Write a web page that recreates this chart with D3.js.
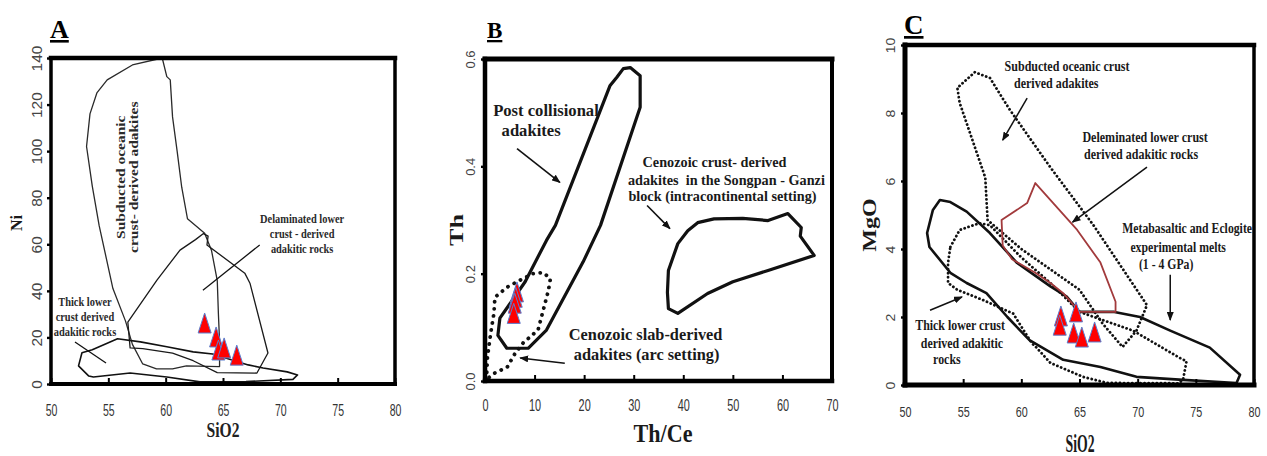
<!DOCTYPE html>
<html>
<head>
<meta charset="utf-8">
<script src="https://cdn.jsdelivr.net/npm/d3@7"></script>
<style>
  body { margin: 0; background: #fff; }
</style>
</head>
<body>
<script>
// ---- data ----

// A: SiO2 vs Ni
const aXTicks = [50, 55, 60, 65, 70, 75, 80];
const aYTicks = [0, 20, 40, 60, 80, 100, 120, 140];
const aSubducted = [[59.7,140],[57.1,137],[54.9,130.6],[54.0,125],[53.4,116],[53.1,102],[53.6,85],[54.2,68],[55.4,41],[56.5,27],[57.1,17],[58.0,8.6],[59.2,6.5],[60.6,6.5],[61.8,7.8],[64.7,7.5],[64.7,12],[64.7,18.5],[64.6,30],[64.5,44.4],[64.0,57.3],[63.4,64.7],[61.9,71],[61.4,84.5],[61.0,100],[60.6,114.7],[60.4,130.6],[60.1,132]];
const aDelaminated = [[63.3,64.6],[62.6,62],[61.25,57.5],[59.24,44.6],[56.7,26.6],[56.9,15.5],[58.0,15.2],[60.6,13.3],[62.4,10.0],[64.5,4.9],[67.96,4.7],[68.92,13.3],[67.35,43.3],[66.9,47.6],[63.6,59.7],[63.7,63.5]];
const aThickLower = [[52.4,7.8],[52.7,13.4],[53.6,14.7],[55.8,19.4],[57.8,18.1],[60.1,16],[62.4,13.8],[64.1,12.9],[67.2,8.2],[68.5,6.9],[70.6,5.2],[71.5,3.9],[71.1,2.0],[67,1.0],[63,0.9],[60.1,3.0],[56.9,4.7],[53.7,3.0],[53.3,3.4]];
const aSampleSiO2 = [63.4, 64.4, 64.6, 65.1, 66.2];
const aSampleNi = [26.2, 20.2, 14.6, 15.5, 12.4];

// B: Th/Ce vs Th
const bXTicks = [0, 10, 20, 30, 40, 50, 60, 70];
const bYTicks = [0, 0.2, 0.4, 0.6];
const bPostCollisional = [[29.3,0.584],[31.3,0.569],[31.3,0.51],[23.3,0.29],[19.8,0.222],[12.4,0.095],[8.7,0.061],[4.4,0.061],[2.6,0.085],[3.0,0.117],[8.1,0.185],[12.4,0.262],[14.2,0.29],[25.2,0.55],[26.6,0.566],[27.9,0.582]];
const bSongpanGanzi = [[38.9,0.256],[40.9,0.28],[42.9,0.295],[46.2,0.302],[52.0,0.303],[57.1,0.299],[61.1,0.312],[63.8,0.286],[63.6,0.27],[66.4,0.234],[57.1,0.206],[50.0,0.185],[44.9,0.163],[38.9,0.126],[37.0,0.135],[36.8,0.165],[37.0,0.206]];
const bSlabDerived = [[0.3,0.003],[0.5,0.045],[1.15,0.089],[1.8,0.126],[2.0,0.156],[4.5,0.175],[7.1,0.188],[9.7,0.2],[11.7,0.202],[13.2,0.191],[12.8,0.169],[10.7,0.095],[7.7,0.071],[6.1,0.052],[4.5,0.026],[2.0,0.015]];
const bSampleThCe = [6.45, 6.2, 6.0, 5.8];
const bSampleTh = [0.166, 0.156, 0.145, 0.126];

// C: SiO2 vs MgO
const cXTicks = [50, 55, 60, 65, 70, 75, 80];
const cYTicks = [0, 2, 4, 6, 8, 10];
const cSubducted = [[56.0,9.2],[54.5,8.74],[54.7,8.3],[55.8,7.2],[56.9,6.1],[57.1,4.85],[60,4.0],[62.5,3.4],[65,2.8],[67,1.8],[68.7,1.12],[69.9,1.6],[70.8,2.35],[66.2,4.7],[62.5,6.4],[59.0,8.1],[57.3,9.03]];
const cDelaminated = [[58.3,4.85],[60.5,5.35],[61.2,5.94],[64.8,4.56],[66.8,3.6],[68.1,2.45],[68.1,2.15],[65,2.15],[63.6,2.7],[62.5,3.0],[61.2,3.3],[59.2,3.7],[58.4,4.1]];
const cMetabasalt = [[53.0,5.44],[53.9,5.38],[55.3,5.1],[57.3,4.47],[59.6,3.6],[62.5,2.9],[63.9,2.6],[65.0,2.15],[68,2.15],[70.2,2.0],[72.8,1.6],[76.2,1.1],[78.8,0.3],[78.5,0.06],[73.9,0.15],[69.9,0.24],[66.8,0.53],[63.6,0.74],[60.7,1.32],[58.8,2.0],[57.0,2.7],[55.3,3.0],[53.9,3.3],[52.1,4.06],[51.9,4.47],[52.4,5.15]];
const cThickLower = [[53.9,4.06],[54.7,4.56],[56.4,4.76],[57.3,4.7],[60,3.75],[62.5,3.0],[65,2.15],[67.5,1.85],[69.6,1.6],[73.6,0.8],[74.2,0.7],[73.9,0.15],[73.5,0.05],[67.4,0.06],[65.3,0.24],[62.5,0.65],[61.3,1.1],[60.9,1.23],[59.3,2.1],[56.7,2.5],[54.5,2.8],[53.7,3.0],[53.7,3.6]];
const cSampleSiO2 = [63.4, 63.3, 64.7, 64.5, 65.2, 66.3];
const cSampleMgO = [2.03, 1.76, 2.15, 1.53, 1.41, 1.56];

// ---- setup ----
const SERIF = "'Liberation Serif','Times New Roman',serif";
const SANS = "'Liberation Sans',Arial,sans-serif";

const svg = d3.select("body").append("svg")
  .attr("width", 1267).attr("height", 456);

svg.append("defs").append("marker")
  .attr("id", "head")
  .attr("markerUnits", "userSpaceOnUse")
  .attr("markerWidth", 9).attr("markerHeight", 7)
  .attr("refX", 8).attr("refY", 3.5)
  .attr("orient", "auto")
  .append("path").attr("d", "M0,0 L9,3.5 L0,7 Z").attr("fill", "#111");

function addText(g, x, y, lines, o) {
  const t = g.append("text")
    .attr("transform", `translate(${x},${y}) scale(${o.sx || 1},1)` + (o.rot ? ` rotate(${o.rot})` : ""))
    .attr("font-family", o.font || SERIF)
    .attr("font-size", o.size)
    .attr("font-weight", o.weight || "bold")
    .attr("text-anchor", o.anchor || "middle")
    .attr("fill", o.fill || "#1a1a1a")
    .style("white-space", "pre");
  [].concat(lines).forEach((s, i) => {
    t.append("tspan").attr("x", 0).attr("dy", i ? o.lh : 0).text(s);
  });
  return t;
}

function drawAxes(g, x, y, xt, yt, yFmt, st) {
  const [x0, x1] = x.range();
  const [y0, y1] = y.range();

  const ya = g.append("g").attr("transform", `translate(${x0},0)`)
    .call(d3.axisLeft(y).tickValues(yt).tickSize(4).tickFormat(yFmt));
  ya.select(".domain").remove();
  ya.selectAll("line").attr("stroke", "#000").attr("stroke-width", 2.4);
  ya.selectAll("text")
    .attr("x", 0).attr("y", 0).attr("dy", 0)
    .attr("transform", `translate(${-st.yLab},0) scale(${st.ySx},1) rotate(-90)`)
    .attr("text-anchor", "middle")
    .attr("font-family", SANS).attr("font-size", st.yFont).attr("fill", "#444");

  const xa = g.append("g").attr("transform", `translate(0,${y0})`)
    .call(d3.axisBottom(x).tickValues(xt).tickSize(-6).tickFormat(d3.format("d")));
  xa.select(".domain").remove();
  xa.selectAll("line").attr("stroke", "#000").attr("stroke-width", 2);
  xa.selectAll("text")
    .attr("x", 0).attr("y", 0).attr("dy", 0)
    .attr("transform", `translate(0,${st.xLab}) scale(${st.xSx},1)`)
    .attr("text-anchor", "middle")
    .attr("font-family", SANS).attr("font-size", st.xFont).attr("fill", "#333");

  // frame
  const fr = g.append("g").attr("stroke", "#000").attr("stroke-linecap", "square");
  fr.append("line").attr("x1", x0).attr("x2", x1).attr("y1", y1).attr("y2", y1).attr("stroke-width", st.fTop);
  fr.append("line").attr("x1", x0).attr("x2", x1).attr("y1", y0).attr("y2", y0).attr("stroke-width", st.fBottom);
  fr.append("line").attr("x1", x0).attr("x2", x0).attr("y1", y1).attr("y2", y0).attr("stroke-width", st.fLeft);
  fr.append("line").attr("x1", x1).attr("x2", x1).attr("y1", y1).attr("y2", y0).attr("stroke-width", st.fRight);
}

function field(g, x, y, pts, style) {
  const line = d3.line().x(d => x(d[0])).y(d => y(d[1])).curve(d3.curveLinearClosed);
  return g.append("path").attr("d", line(pts))
    .attr("fill", "none")
    .attr("stroke", style.stroke || "#111")
    .attr("stroke-width", style.width)
    .attr("stroke-linejoin", "round")
    .attr("stroke-linecap", style.dash ? "round" : "butt")
    .attr("stroke-dasharray", style.dash || null);
}

function arrow(g, x, y, from, to, w, head) {
  g.append("line")
    .attr("x1", x(from[0])).attr("y1", y(from[1]))
    .attr("x2", x(to[0])).attr("y2", y(to[1]))
    .attr("stroke", "#111").attr("stroke-width", w)
    .attr("marker-end", head ? "url(#head)" : null);
}

function samples(g, x, y, xs, ys) {
  const w = 13, h = 20;
  g.selectAll(null).data(xs.map((v, i) => [v, ys[i]])).enter()
    .append("path")
    .attr("transform", d => `translate(${x(d[0])},${y(d[1])})`)
    .attr("d", `M0,${-h / 2} L${w / 2},${h / 2} L${-w / 2},${h / 2} Z`)
    .attr("fill", "#ff0000")
    .attr("stroke", "#5a7fd0")
    .attr("stroke-width", 1);
}

function panelLetter(g, x, y, s, size) {
  addText(g, x, y, s, { size: size, anchor: "start", fill: "#000" })
    .style("text-decoration", "underline");
}

// ---- panel A ----
{
  const g = svg.append("g");
  const x = d3.scaleLinear().domain([50, 80]).range([51, 395]);
  const y = d3.scaleLinear().domain([0, 140]).range([384, 58]);

  field(g, x, y, aSubducted, { width: 1.3, stroke: "#2a2a2a" });
  field(g, x, y, aDelaminated, { width: 1.3, stroke: "#1a1a1a" });
  field(g, x, y, aThickLower, { width: 1.6, stroke: "#111" });
  arrow(g, x, y, [52.09, 18.0], [54.8, 9.0], 1.3, false);
  arrow(g, x, y, [68.2, 59.7], [63.25, 40.3], 1.3, false);
  samples(g, x, y, aSampleSiO2, aSampleNi);

  drawAxes(g, x, y, aXTicks, aYTicks, d3.format("d"), {
    yLab: 9, ySx: 1, yFont: 15.5, xLab: 32, xSx: 0.62, xFont: 17,
    fTop: 4.5, fBottom: 4, fLeft: 3.5, fRight: 3.5
  });

  addText(g, x(56.45), y(88.8), ["Subducted oceanic", "crust- derived adakites"],
    { size: 15.5, sx: 0.8, rot: -90, lh: 16, fill: "#2a2a2a" });
  addText(g, x(71.9), y(69.1), ["Delaminated lower", "crust - derived", "adakitic rocks"],
    { size: 13, sx: 0.8, lh: 15, fill: "#2a2a2a" });
  addText(g, x(52.96), y(33.5), ["Thick lower", "crust derived", "adakitic rocks"],
    { size: 13, sx: 0.8, lh: 15, fill: "#2a2a2a" });

  addText(g, 22, 223, "Ni", { size: 16, rot: -90 });
  addText(g, 223, 437, "SiO2", { size: 20, sx: 0.78, fill: "#222" });
  panelLetter(g, 50, 38, "A", 26);
}

// ---- panel B ----
{
  const g = svg.append("g");
  const x = d3.scaleLinear().domain([0, 70]).range([485, 832]);
  const y = d3.scaleLinear().domain([0, 0.6]).range([381, 59]);

  field(g, x, y, bPostCollisional, { width: 3.2 });
  field(g, x, y, bSongpanGanzi, { width: 3.2 });
  field(g, x, y, bSlabDerived, { width: 3.8, dash: "0.1,7" });
  arrow(g, x, y, [6.46, 0.433], [15.1, 0.37], 1.6, true);
  arrow(g, x, y, [32.7, 0.327], [37.3, 0.284], 1.6, true);
  arrow(g, x, y, [16.1, 0.033], [7.1, 0.043], 1.6, true);
  samples(g, x, y, bSampleThCe, bSampleTh);

  drawAxes(g, x, y, bXTicks, bYTicks, d3.format(".1f"), {
    yLab: 10, ySx: 0.95, yFont: 13, xLab: 30, xSx: 0.64, xFont: 17,
    fTop: 5, fBottom: 4.5, fLeft: 4.5, fRight: 4
  });

  addText(g, x(12.3), y(0.494), "Post collisional", { size: 17.5, sx: 0.95 });
  addText(g, x(9.3), y(0.457), "adakites", { size: 17.5, sx: 0.95 });
  addText(g, x(46.3), y(0.3996), "Cenozoic crust- derived", { size: 15, sx: 0.95 });
  addText(g, x(48.7), y(0.366), "adakites  in the Songpan - Ganzi", { size: 15, sx: 0.95 });
  addText(g, x(47.9), y(0.335), "block (intracontinental setting)", { size: 15, sx: 0.95 });
  addText(g, x(32.4), y(0.0762), "Cenozoic slab-derived", { size: 17, sx: 0.96 });
  addText(g, x(32.6), y(0.039), "adakites (arc setting)", { size: 17, sx: 0.96 });

  addText(g, 463, 230, "Th", { size: 26, sx: 0.75, rot: -90 });
  addText(g, 663, 442, "Th/Ce", { size: 26, sx: 0.85 });
  panelLetter(g, 487, 38, "B", 23);
}

// ---- panel C ----
{
  const g = svg.append("g");
  const x = d3.scaleLinear().domain([50, 80]).range([905, 1254]);
  const y = d3.scaleLinear().domain([0, 10]).range([385, 45]);

  field(g, x, y, cSubducted, { width: 2.8, dash: "0.1,4" });
  field(g, x, y, cThickLower, { width: 2.8, dash: "0.1,4" });
  field(g, x, y, cMetabasalt, { width: 2.6 });
  field(g, x, y, cDelaminated, { width: 1.8, stroke: "#a23a3c" });
  arrow(g, x, y, [60.5, 8.44], [58.4, 7.2], 1.5, true);
  arrow(g, x, y, [70.8, 6.41], [64.4, 4.79], 1.5, true);
  arrow(g, x, y, [72.8, 3.24], [72.8, 1.91], 1.5, true);
  arrow(g, x, y, [52.15, 2.2], [54.9, 2.59], 1.5, true);
  samples(g, x, y, cSampleSiO2, cSampleMgO);

  drawAxes(g, x, y, cXTicks, cYTicks, d3.format("d"), {
    yLab: 10, ySx: 0.85, yFont: 14, xLab: 32, xSx: 0.72, xFont: 15,
    fTop: 4.5, fBottom: 5, fLeft: 5, fRight: 3.5
  });

  addText(g, x(63.93), y(9.235), "Subducted oceanic crust", { size: 14, sx: 0.86 });
  addText(g, x(63.0), y(8.735), "derived adakites", { size: 14, sx: 0.86 });
  addText(g, x(70.64), y(7.15), "Deleminated lower crust", { size: 14, sx: 0.86 });
  addText(g, x(70.29), y(6.65), "derived adakitic rocks", { size: 14, sx: 0.86 });
  addText(g, x(74.25), y(4.47), "Metabasaltic and Eclogite", { size: 14, sx: 0.84 });
  addText(g, x(73.48), y(3.91), "experimental melts", { size: 14, sx: 0.84 });
  addText(g, x(72.45), y(3.41), "(1 - 4 GPa)", { size: 14, sx: 0.84 });
  addText(g, x(54.73), y(1.62), "Thick lower crust", { size: 14, sx: 0.85 });
  addText(g, x(54.9), y(1.09), "derived adakitic", { size: 14, sx: 0.85 });
  addText(g, x(53.6), y(0.62), "rocks", { size: 14, sx: 0.85 });

  addText(g, 876, 225, "MgO", { size: 24, sx: 0.75, rot: -90 });
  addText(g, 1080, 452, "SiO2", { size: 25, sx: 0.55, fill: "#1a1a1a" });
  panelLetter(g, 904, 34, "C", 27);
}
</script>
</body>
</html>
